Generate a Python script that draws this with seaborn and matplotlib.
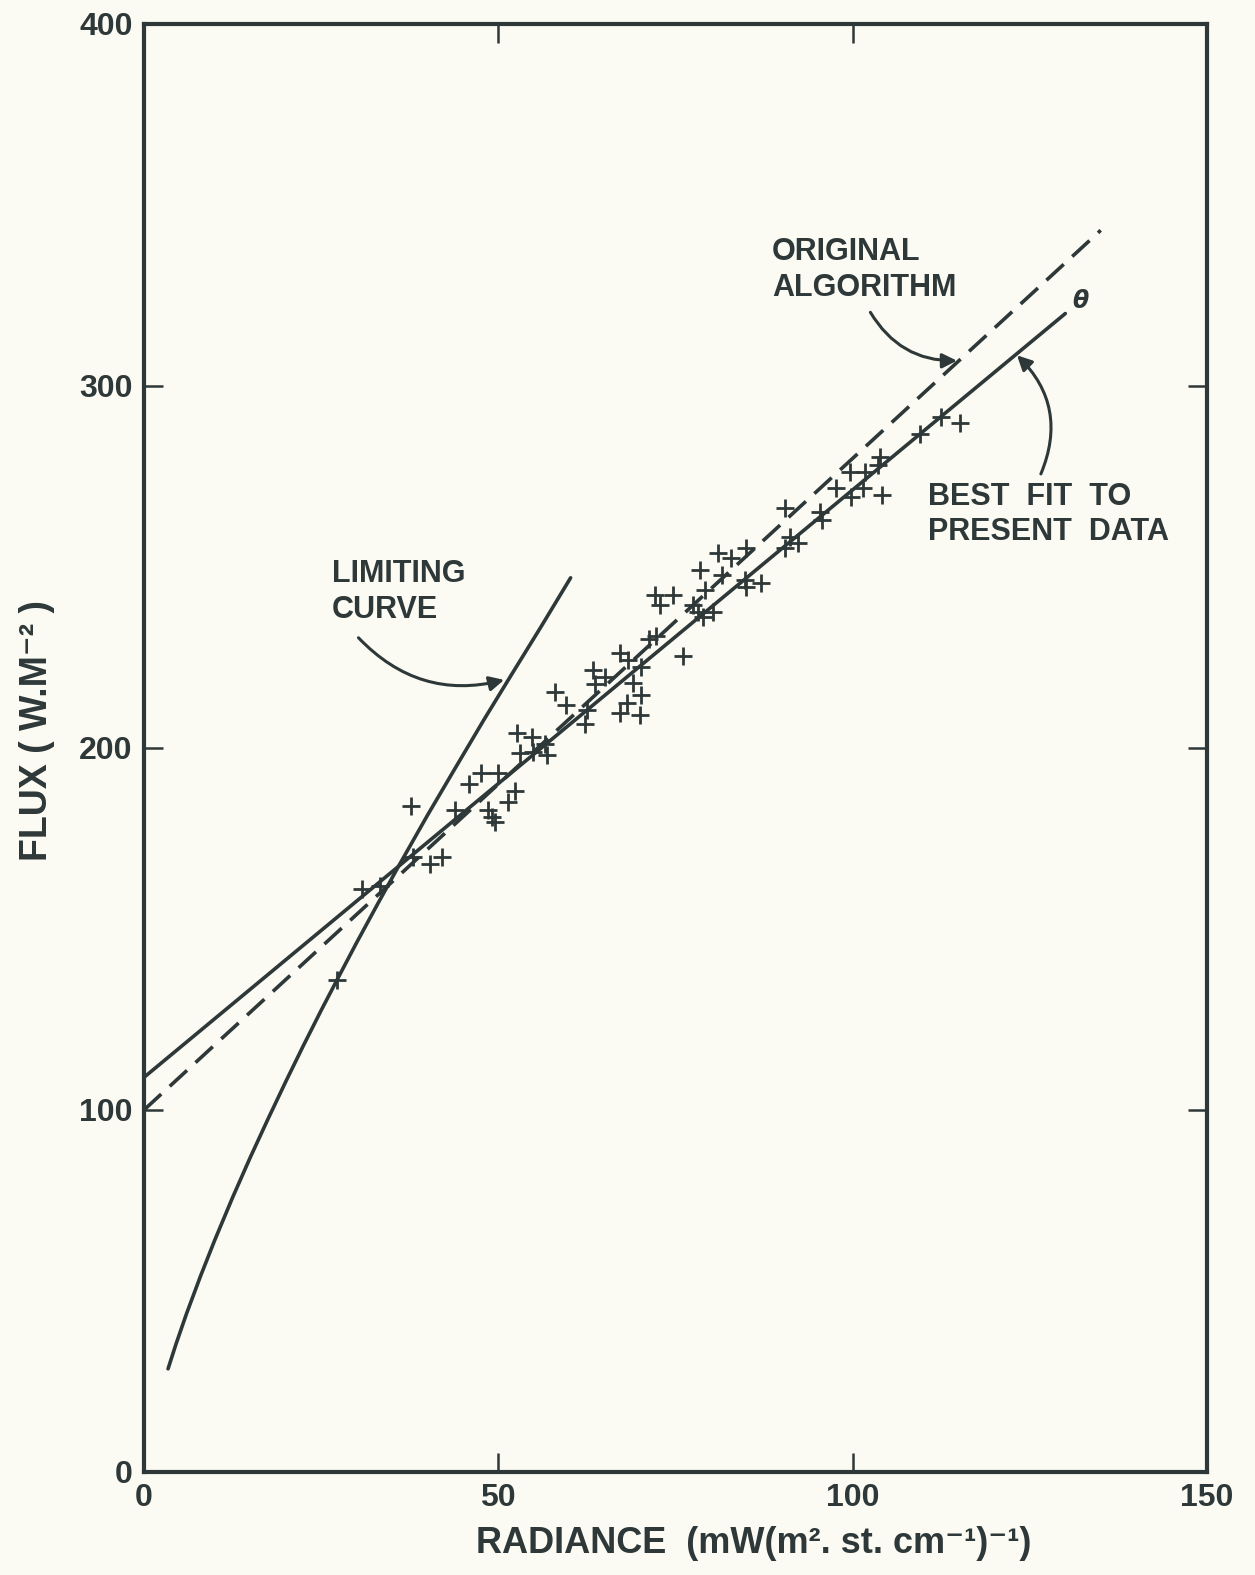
import numpy as np
import pandas as pd
import seaborn as sns
import matplotlib.pyplot as plt

# scatter of flux vs radiance
rad_x = [27.2, 30.7, 33.3, 37.7, 38.0, 40.4, 42.1, 43.9, 45.8, 47.6,
         48.6, 49.1, 49.5, 50.0, 51.4, 52.3, 52.6, 53.1, 54.7, 54.9,
         56.6, 56.8, 58.0, 62.2, 62.5, 63.4, 63.6, 65.0, 67.2, 68.3,
         70.2, 69.0, 70.2, 68.1, 67.2, 70.0, 71.2, 76.0, 72.1, 74.7,
         72.8, 79.2, 78.2, 80.3, 78.9, 78.5, 81.0, 82.9, 81.5, 85.0,
         84.8, 85.0, 87.1, 90.4, 91.2, 92.3, 90.4, 95.4, 95.6, 97.7,
         99.6, 99.8, 101.5, 101.7, 103.9, 103.6, 104.1, 109.5, 112.5, 115.1,
         72.3, 77.5, 59.5]
flux_y = [136, 161, 162, 184, 170, 168, 170, 183, 190, 193,
          183, 181, 179.5, 193, 185, 188, 204, 198.5, 203, 199,
          201, 198, 215.5, 206.5, 210.5, 221.5, 217.7, 219.7, 226.2, 224.3,
          222.5, 218, 214.6, 212.3, 209.6, 209, 230, 225.4, 242.3, 242.3,
          239.5, 243.6, 237.6, 237.6, 236.3, 249.2, 253.8, 252.4, 247.8, 255.2,
          246.4, 244.6, 245.5, 266.2, 258.4, 256.5, 255.2, 265.3, 263, 271.7,
          276.3, 269.4, 271.7, 276.3, 280.5, 278.2, 269.9, 286.7, 291.3, 289.7,
          231, 239.5, 212]

# best fit to present data (solid) and original algorithm (dashed): end points
fit_x = [0, 130]
fit_y = [109, 320]
orig_x = [0, 135]
orig_y = [100, 343]

# limiting curve, points
lim_x = [3.4, 4.5, 6, 8, 10, 12.5, 15, 17.5, 20, 22.5, 25, 27.5, 30,
         33, 36, 40, 44, 48, 52, 56, 60.2]
lim_y = [28.5, 35.2, 43.7, 54.2, 64.1, 75.8, 86.9, 97.5, 107.8, 117.8, 127.5, 136.9, 146.2,
         157, 167.6, 181.4, 194.7, 207.9, 220.7, 233.4, 247]

x_ticks = [0, 50, 100, 150]
y_ticks = [0, 100, 200, 300, 400]

ink = "#2e3838"
paper = "#fbfbf4"

sns.set_style("ticks")
plt.rcParams["font.family"] = ["Liberation Sans", "DejaVu Sans"]
plt.rcParams["font.weight"] = "bold"
plt.rcParams["text.color"] = ink
plt.rcParams["axes.labelcolor"] = ink
plt.rcParams["xtick.color"] = ink
plt.rcParams["ytick.color"] = ink

fig = plt.figure(figsize=(12.55, 15.75), dpi=100, facecolor=paper)
ax = fig.add_axes([0.1147, 0.0654, 0.8471, 0.9194])
ax.set_facecolor(paper)

pts = pd.DataFrame({"radiance": rad_x, "flux": flux_y})
sns.scatterplot(data=pts, x="radiance", y="flux", marker="+", s=170,
                color=ink, linewidth=2.0, ax=ax, zorder=3)

sns.lineplot(x=fit_x, y=fit_y, color=ink, lw=2.6, ax=ax)
sns.lineplot(x=orig_x, y=orig_y, color=ink, lw=2.6, ax=ax).lines[-1].set_dashes((6.5, 3.2))
sns.lineplot(x=lim_x, y=lim_y, color=ink, lw=2.6, ax=ax, sort=False)

ax.set_xlim(0, 150)
ax.set_ylim(0, 400)
ax.set_xticks(x_ticks)
ax.set_yticks(y_ticks)
ax.tick_params(direction="in", length=14, width=1.8, labelsize=23,
               top=True, right=True, pad=8)
for s in ax.spines.values():
    s.set_linewidth(3.0)
    s.set_color(ink)

ax.set_xlabel("RADIANCE  (mW(m². st. cm⁻¹)⁻¹)", fontsize=26, fontweight="bold")
ax.set_ylabel("FLUX ( W.M⁻² )", fontsize=27, fontweight="bold")
ax.xaxis.set_label_coords(0.574, -0.037)
ax.yaxis.set_label_coords(-0.084, 0.512)

# annotations with curved arrows
arrow = dict(arrowstyle="-|>", color=ink, lw=2.2, mutation_scale=22)
ax.text(26.5, 243, "LIMITING\nCURVE", fontsize=22, fontweight="bold",
        va="center", ha="left", linespacing=1.25)
ax.annotate("", xy=(51.2, 219), xytext=(30, 231),
            arrowprops=dict(arrow, connectionstyle="arc3,rad=0.3"))

ax.text(88.6, 332, "ORIGINAL\nALGORITHM", fontsize=22, fontweight="bold",
        va="center", ha="left", linespacing=1.25)
ax.annotate("", xy=(115.1, 307), xytext=(102.3, 321),
            arrowprops=dict(arrow, connectionstyle="arc3,rad=0.3"))

ax.text(110.6, 264.5, "BEST  FIT  TO\nPRESENT  DATA", fontsize=22, fontweight="bold",
        va="center", ha="left", linespacing=1.25)
ax.annotate("", xy=(122.9, 309), xytext=(126.4, 275),
            arrowprops=dict(arrow, connectionstyle="arc3,rad=0.35"))

ax.text(132.1, 323.5, "θ", fontsize=17, fontstyle="italic", fontweight="bold",
        va="center", ha="center", family=["DejaVu Sans"])

fig.savefig("out.png", dpi=100, facecolor=paper)
